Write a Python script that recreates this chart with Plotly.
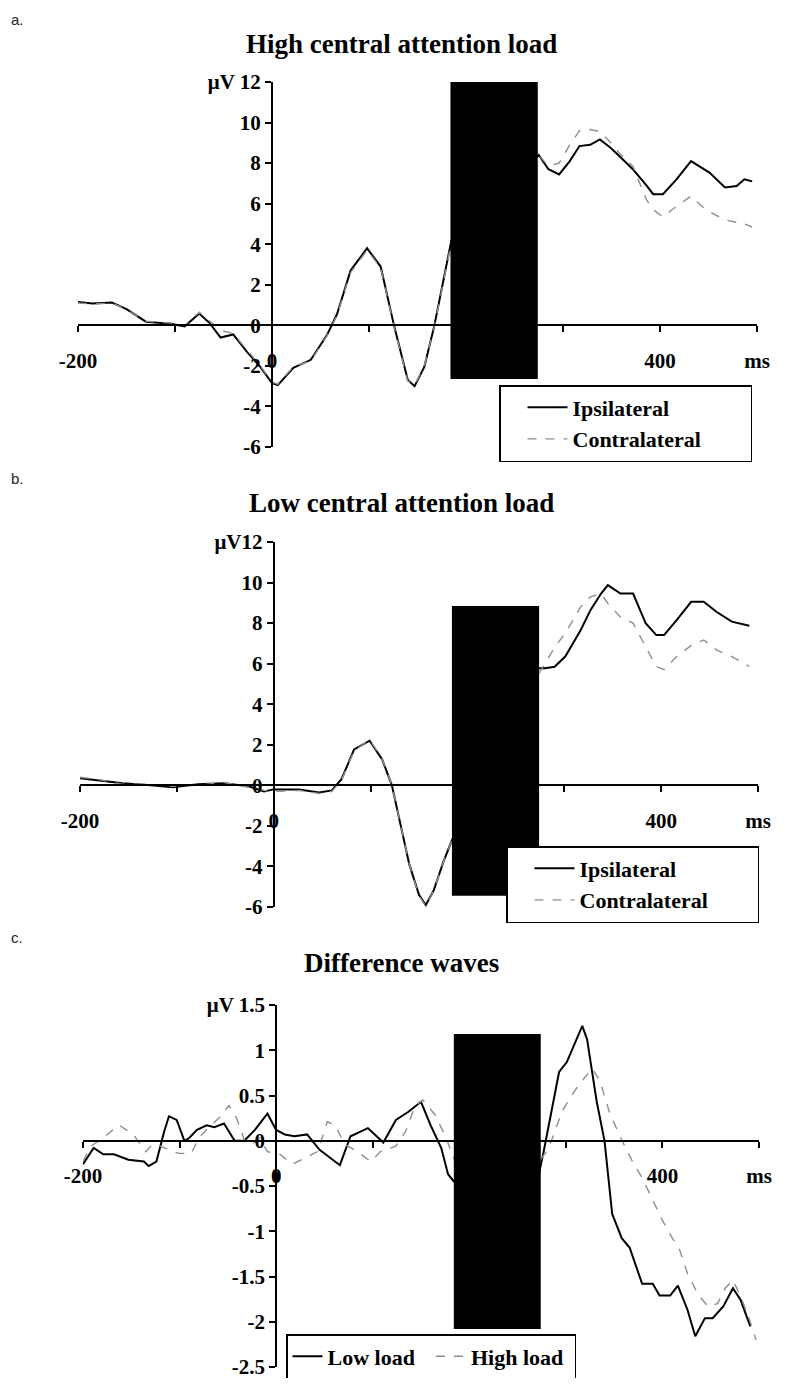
import plotly.graph_objects as go

# page window is 786x1386; the browser adds an 8px body margin around the figure
PAGE_W, PAGE_H, BODY = 786, 1386, 8
FW, FH = PAGE_W - 2 * BODY, PAGE_H - 2 * BODY

# ---------------- data ----------------
# Panel a: High central attention load
t_a = [-200, -185, -165, -150, -130, -105, -90, -75, -64, -53, -40, -26, -12, 0, 6, 22, 40, 57, 67, 81,
       98, 112, 126, 140, 147, 157, 167, 185,
       275, 285, 296, 307, 317, 328, 338, 348, 358, 372, 386, 393, 403, 417, 432, 445, 451, 467, 479, 487, 495]
ipsi_a = [1.15, 1.08, 1.12, 0.8, 0.18, 0.08, -0.05, 0.58, 0.1, -0.6, -0.45, -1.3, -2.05, -2.85, -2.95, -2.1,
          -1.7, -0.45, 0.55, 2.7, 3.8, 2.9, -0.05, -2.7, -3.0, -2.05, -0.1, 4.2,
          8.4, 7.7, 7.44, 8.1, 8.84, 8.9, 9.17, 8.8, 8.35, 7.7, 6.9, 6.47, 6.47, 7.2, 8.1, 7.7, 7.53, 6.8,
          6.87, 7.2, 7.1]
contra_a = [1.1, 1.05, 1.1, 0.78, 0.2, 0.12, 0.0, 0.65, 0.2, -0.25, -0.4, -1.2, -2.0, -2.8, -2.9, -2.05,
            -1.75, -0.5, 0.5, 2.6, 3.7, 2.85, -0.1, -2.75, -2.95, -2.0, -0.15, 4.1,
            8.4, 7.85, 8.0, 8.9, 9.6, 9.66, 9.55, 9.07, 8.5, 7.85, 6.2, 5.7, 5.35, 5.87, 6.37, 5.8, 5.6, 5.2,
            5.1, 5.0, 4.85]

# Panel b: Low central attention load
t_b = [-200, -182, -156, -130, -104, -78, -52, -26, -10, 0, 26, 47, 60, 70, 83, 99, 112, 122, 131, 140,
       150, 157, 165, 175, 184,
       272, 280, 290, 301, 317, 327, 338, 345, 358, 371, 384, 395, 403, 416, 431, 444, 457, 473, 491]
ipsi_b = [0.35, 0.25, 0.1, 0.02, -0.1, 0.05, 0.1, -0.05, -0.3, -0.2, -0.2, -0.35, -0.25, 0.3, 1.77, 2.2,
          1.28, 0.0, -2.0, -3.9, -5.4, -5.9, -5.2, -3.8, -2.7,
          5.78, 5.78, 5.85, 6.35, 7.66, 8.64, 9.46, 9.87, 9.46, 9.46, 8.0, 7.41, 7.41, 8.15, 9.05, 9.05,
          8.56, 8.07, 7.87]
contra_b = [0.4, 0.3, 0.05, 0.05, -0.05, 0.0, 0.15, -0.1, -0.25, -0.3, -0.25, -0.4, -0.3, 0.25, 1.7, 2.25,
            1.3, 0.0, -2.0, -3.9, -5.45, -5.95, -5.2, -3.8, -2.7,
            5.37, 6.0, 6.8, 7.5, 8.8, 9.3, 9.46, 8.97, 8.3, 8.0, 6.84, 5.86, 5.7, 6.35, 6.9, 7.17, 6.68,
            6.35, 5.86]

# Panel c: Difference waves
t_low = [-200, -189, -179, -168, -153, -137, -132, -124, -116, -111, -103, -95, -90, -82, -72, -64, -54,
         -43, -33, -22, -9, 0, 9, 19, 32, 45, 66, 77, 95, 111, 124, 137, 150, 160, 171, 178, 184,
         272, 277, 285, 293, 301, 311, 317, 322, 332, 340, 348, 358, 366, 379, 390, 397, 408, 416, 426,
         434, 444, 452, 463, 473, 481, 491]
low_load = [-0.26, -0.08, -0.15, -0.15, -0.21, -0.23, -0.28, -0.23, 0.1, 0.27, 0.23, 0.0, 0.03, 0.12, 0.17,
            0.15, 0.19, 0.0, 0.0, 0.12, 0.3, 0.12, 0.07, 0.05, 0.07, -0.1, -0.27, 0.05, 0.14, -0.02, 0.23,
            0.32, 0.43, 0.17, -0.08, -0.37, -0.45,
            -0.37, -0.12, 0.32, 0.76, 0.87, 1.12, 1.27, 1.12, 0.43, 0.0, -0.81, -1.08, -1.18, -1.58, -1.58,
            -1.71, -1.71, -1.6, -1.87, -2.16, -1.96, -1.96, -1.83, -1.63, -1.76, -2.05]
t_high = [-200, -192, -179, -163, -148, -135, -127, -116, -101, -88, -80, -69, -59, -49, -41, -33, -25,
          -17, -9, 4, 17, 30, 43, 53, 61, 71, 84, 98, 108, 124, 134, 144, 152, 165, 176, 184,
          272, 280, 285, 296, 304, 311, 319, 327, 335, 345, 356, 369, 379, 390, 400, 410, 418, 426, 437,
          447, 457, 465, 473, 481, 489, 497]
high_load = [-0.23, -0.06, 0.03, 0.175, 0.07, -0.12, -0.03, -0.08, -0.14, -0.14, 0.03, 0.16, 0.25, 0.39,
             0.25, 0.01, -0.04, 0.03, -0.12, -0.15, -0.26, -0.19, -0.12, 0.21, 0.175, -0.04, -0.12, -0.23,
             -0.12, -0.06, 0.1, 0.39, 0.45, 0.28, 0.03, -0.2,
             -0.23, -0.12, 0.0, 0.32, 0.47, 0.58, 0.69, 0.8, 0.67, 0.32, 0.05, -0.23, -0.41, -0.66, -0.88,
             -1.07, -1.21, -1.47, -1.7, -1.83, -1.8, -1.63, -1.54, -1.72, -1.94, -2.2]

# masked (artifact) interval, ms, and its vertical extent per panel (µV)
mask_ms = [184, 274]
mask_a = [-2.65, 12]
mask_b = [-5.45, 8.85]
mask_c = [-2.08, 1.18]

# small marker on the difference-wave axis
marker_t = [0]
marker_v = [-0.4]

x_tickvals = [-200, -100, 0, 100, 200, 300, 400, 500]
x_ticktext = ["-200", "", "0", "", "", "", "400", "ms"]

ya_vals = [12, 10, 8, 6, 4, 2, 0, -2, -4, -6]
ya_text = ["μV 12", "10", "8", "6", "4", "2", "0", "-2", "-4", "-6"]
yb_text = ["μV12", "10", "8", "6", "4", "2", "0", "-2", "-4", "-6"]
yc_vals = [1.5, 1, 0.5, 0, -0.5, -1, -1.5, -2, -2.5]
yc_text = ["μV 1.5", "1", "0.5", "0", "-0.5", "-1", "-1.5", "-2", "-2.5"]

titles = ["High central attention load", "Low central attention load", "Difference waves"]
letters = ["a.", "b.", "c."]
names_ab = ["Ipsilateral", "Contralateral"]
names_c = ["Low load", "High load"]

for a, b in [(t_a, ipsi_a), (t_a, contra_a), (t_b, ipsi_b), (t_b, contra_b), (t_low, low_load), (t_high, high_load)]:
    assert len(a) == len(b)

# ---------------- layout geometry (page pixels) ----------------
def fx(p):
    return (p - BODY) / FW

def fy(p):
    return 1 - (p - BODY) / FH

SERIF = "Liberation Serif"
tickfont = dict(family=SERIF, size=21, color="black", weight="bold")

panels = [
    dict(xpx=(78, 757), ypx=(82, 447), yr=(-6, 12), yv=ya_vals, yt=ya_text, title_y=44, letter_y=9,
         mask=mask_a, legend="legend"),
    dict(xpx=(80, 758), ypx=(542, 907), yr=(-6, 12), yv=ya_vals, yt=yb_text, title_y=503, letter_y=468,
         mask=mask_b, legend="legend2"),
    dict(xpx=(83, 759), ypx=(1005, 1367), yr=(-2.5, 1.5), yv=yc_vals, yt=yc_text, title_y=963, letter_y=927,
         mask=mask_c, legend="legend3"),
]

fig = go.Figure()

nb = "\u00a0"
series = [
    [(t_a, ipsi_a, names_ab[0], True), (t_a, contra_a, names_ab[1] + nb * 8, False)],
    [(t_b, ipsi_b, names_ab[0], True), (t_b, contra_b, names_ab[1] + nb * 8, False)],
    [(t_low, low_load, names_c[0] + nb * 2, True), (t_high, high_load, names_c[1] + nb, False)],
]

layout = {}
shapes = []
annotations = []
for i, p in enumerate(panels):
    n = i + 1
    xs = "x" if n == 1 else f"x{n}"
    ys = "y" if n == 1 else f"y{n}"
    xname = "xaxis" if n == 1 else f"xaxis{n}"
    yname = "yaxis" if n == 1 else f"yaxis{n}"
    x0p, x1p = p["xpx"]
    ytp, ybp = p["ypx"]
    ylo, yhi = p["yr"]
    y0px = ytp + (yhi - 0) / (yhi - ylo) * (ybp - ytp)
    x0px = x0p + (0 - (-200)) / 700 * (x1p - x0p)

    for (tt, vv, name, solid) in series[i]:
        if solid:
            line = dict(color="black", width=2)
        else:
            line = dict(color="#8e8e8e", width=1.4, dash="dash")
        fig.add_trace(go.Scatter(x=tt, y=vv, mode="lines", name=name, line=line,
                                 xaxis=xs, yaxis=ys, legend=p["legend"], hoverinfo="skip"))

    layout[xname] = dict(domain=[fx(x0p), fx(x1p)], range=[-200, 500], anchor="free", position=fy(y0px),
                         showline=True, linecolor="black", linewidth=2, ticks="outside", ticklen=6,
                         tickwidth=2, tickcolor="black", tickvals=x_tickvals, ticktext=x_ticktext,
                         tickfont=tickfont, showgrid=False, zeroline=False, ticklabelstandoff=10,
                         automargin=False, ticklabeloverflow="allow")
    layout[yname] = dict(domain=[fy(ybp), fy(ytp)], range=[ylo, yhi], anchor="free", position=fx(x0px),
                         showline=True, linecolor="black", linewidth=2, ticks="outside", ticklen=6,
                         tickwidth=2, tickcolor="black", tickvals=p["yv"], ticktext=p["yt"],
                         tickfont=tickfont, showgrid=False, zeroline=False, automargin=False,
                         ticklabeloverflow="allow")

    shapes.append(dict(type="rect", xref=xs, yref=ys, x0=mask_ms[0], x1=mask_ms[1],
                       y0=p["mask"][0], y1=p["mask"][1], fillcolor="black", line=dict(width=0),
                       layer="above"))

    annotations.append(dict(text=titles[i], x=fx(401), y=fy(p["title_y"]), xref="paper", yref="paper",
                            showarrow=False, xanchor="center", yanchor="middle",
                            font=dict(family=SERIF, size=27, color="black", weight="bold")))
    annotations.append(dict(text=letters[i], x=fx(9), y=fy(p["letter_y"]), xref="paper", yref="paper",
                            showarrow=False, xanchor="left", yanchor="top",
                            font=dict(family="Liberation Sans", size=15, color="#222")))

fig.add_trace(go.Scatter(x=marker_t, y=marker_v, mode="markers", xaxis="x3", yaxis="y3",
                         marker=dict(symbol="diamond-tall", size=11, color="black"),
                         showlegend=False, hoverinfo="skip"))

legfont = dict(family=SERIF, size=22, color="black", weight="bold")
layout["legend"] = dict(x=fx(499), y=fy(385), xanchor="left", yanchor="top", bordercolor="black",
                        borderwidth=1.5, bgcolor="white", font=legfont, tracegroupgap=0, itemwidth=40,
                        indentation=22)
layout["legend2"] = dict(x=fx(506), y=fy(846), xanchor="left", yanchor="top", bordercolor="black",
                         borderwidth=1.5, bgcolor="white", font=legfont, tracegroupgap=0, itemwidth=40,
                         indentation=22)
layout["legend3"] = dict(x=fx(286), y=fy(1334), xanchor="left", yanchor="top", bordercolor="black",
                         borderwidth=1.5, bgcolor="white", orientation="h",
                         font=dict(family=SERIF, size=22, color="black", weight="bold"),
                         tracegroupgap=0, itemwidth=30)

fig.update_layout(width=FW, height=FH, margin=dict(l=0, r=0, t=0, b=0, autoexpand=False),
                  paper_bgcolor="white", plot_bgcolor="white", shapes=shapes, annotations=annotations,
                  **layout)

fig.write_html("out.html")
